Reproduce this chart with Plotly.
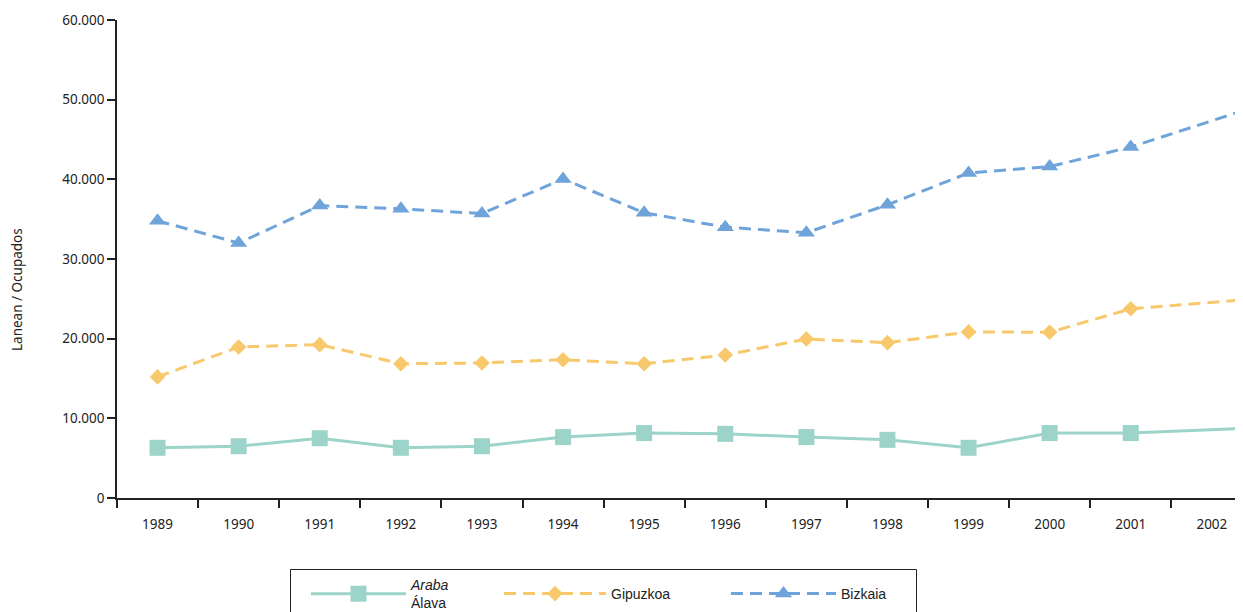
import plotly.graph_objects as go

years = ["1989", "1990", "1991", "1992", "1993", "1994", "1995", "1996",
         "1997", "1998", "1999", "2000", "2001", "2002"]
araba = [6300, 6500, 7500, 6300, 6500, 7650, 8150, 8050, 7650, 7300, 6300, 8150, 8150, 8800]
gipuzkoa = [15200, 18950, 19250, 16850, 16950, 17350, 16850, 17950, 19950, 19500, 20850, 20800, 23750, 24950]
bizkaia = [34800, 32000, 36700, 36300, 35700, 40050, 35800, 34000, 33300, 36800, 40800, 41600, 44050, 49000]
y_ticks = [0, 10000, 20000, 30000, 40000, 50000, 60000]

# category index for every year; the source draws its final year on the
# right-hand edge of that year's slot, so the last point sits half a slot further
xpos = list(range(len(years)))
xpos[-1] = xpos[-1] + 0.5

OFF = 8  # page body margin
W, H = 1243 - OFF, 612 - OFF
L, R, T, B = 117 - OFF, 0, 20 - OFF, 612 - 498
pw = W - L - R
ph = H - T - B
xr = [-0.5, -0.5 + pw / 81.1]


def px(p):
    return (p - OFF - L) / pw


def py(p):
    return (ph - (p - OFF - T)) / ph


c_ar = "#9dd4c9"
c_gi = "#f8c96c"
c_bi = "#6ea4da"
dash = "12px,7px"

fig = go.Figure()
fig.add_trace(go.Scatter(x=xpos, y=araba, name="<i>Araba</i><br>Álava", mode="lines+markers",
                         line=dict(color=c_ar, width=3),
                         marker=dict(symbol="square", size=16, color=c_ar), legend="legend"))
fig.add_trace(go.Scatter(x=xpos, y=gipuzkoa, name="Gipuzkoa", mode="lines+markers",
                         line=dict(color=c_gi, width=3, dash=dash),
                         marker=dict(symbol="diamond", size=12, color=c_gi), legend="legend2"))
fig.add_trace(go.Scatter(x=xpos, y=bizkaia, name="Bizkaia", mode="lines+markers",
                         line=dict(color=c_bi, width=3, dash=dash),
                         marker=dict(symbol="triangle-up", size=15, color=c_bi), legend="legend3"))

# invisible trace to activate the label axis
fig.add_trace(go.Scatter(x=[0], y=[0], xaxis="x2", mode="markers",
                         marker=dict(opacity=0), showlegend=False, hoverinfo="skip"))

tickfont = dict(family="Noto Sans", size=13.5, color="#222")
legfont = dict(family="Liberation Sans", size=14, color="#222")


def leg(line_start, iw):
    return dict(x=px(line_start - 6), xanchor="left", y=py(594), yanchor="middle",
                bgcolor="rgba(0,0,0,0)", borderwidth=0, font=legfont,
                itemwidth=iw, valign="middle")


fig.update_layout(
    width=W, height=H,
    margin=dict(l=L, r=R, t=T, b=B, autoexpand=False),
    paper_bgcolor="white", plot_bgcolor="white",
    separators=",.",
    showlegend=True,
    xaxis=dict(range=xr, tickmode="array",
               tickvals=[i - 0.5 for i in range(len(years) + 1)],
               showticklabels=False, ticks="outside", ticklen=8, tickwidth=1.5,
               tickcolor="#222", showline=True, linecolor="#222", linewidth=1.5,
               showgrid=False, zeroline=False, fixedrange=True),
    xaxis2=dict(range=xr, overlaying="x", anchor="y", side="bottom",
                tickmode="array", tickvals=list(range(len(years))), ticktext=years,
                ticks="outside", ticklen=14, tickcolor="rgba(0,0,0,0)",
                showline=False, showgrid=False, zeroline=False, tickfont=tickfont),
    yaxis=dict(range=[0, 60000], tickmode="array", tickvals=y_ticks,
               tickformat=",d", ticks="outside", ticklen=8, tickwidth=1.5,
               tickcolor="#222", showline=True, linecolor="#222", linewidth=1.5,
               showgrid=False, zeroline=False, tickfont=tickfont),
    legend=leg(312, 95),
    legend2=leg(505, 102),
    legend3=leg(732, 105),
    shapes=[dict(type="rect", xref="paper", yref="paper",
                 x0=px(290.5), x1=px(916.5), y0=py(569.5), y1=py(650),
                 line=dict(color="#222", width=1), fillcolor="rgba(0,0,0,0)", layer="below")],
    annotations=[dict(text="Lanean / Ocupados", xref="paper", yref="paper",
                      x=px(17), y=py(290), textangle=-90,
                      showarrow=False, xanchor="center", yanchor="middle",
                      font=dict(family="Noto Sans", size=13.5, color="#222"))],
)

fig.write_html("out.html")
